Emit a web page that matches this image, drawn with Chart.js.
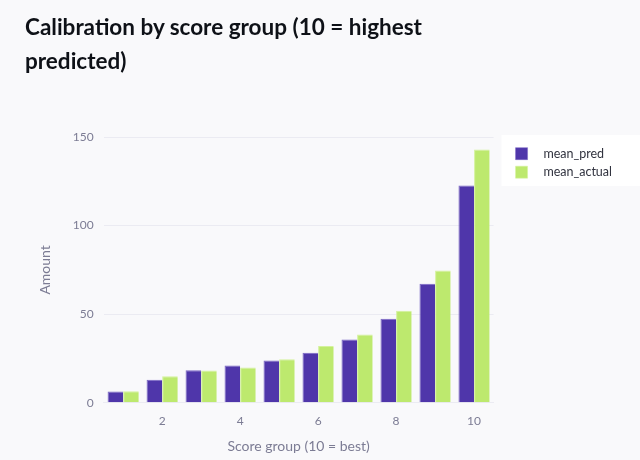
<!DOCTYPE html>
<html>
<head>
<meta charset="utf-8">
<script src="https://cdn.jsdelivr.net/npm/chart.js@4"></script>
<style>
  html, body { margin: 0; padding: 0; background: #f9f9fb; }
  #wrap { position: relative; width: 640px; height: 460px; }
  #title {
    position: absolute; left: 25px; top: 10px; margin: 0;
    font-family: Lato, sans-serif; font-weight: bold; font-size: 22.5px;
    line-height: 34px; color: #0e1117;
  }
</style>
</head>
<body>
<div id="wrap">
  <h1 id="title">Calibration by score group (10 = highest<br>predicted)</h1>
  <canvas id="chart" width="640" height="460"></canvas>
</div>
<script>
// values
const groups = ["1", "2", "3", "4", "5", "6", "7", "8", "9", "10"]
const meanPred = [6.4, 13.0, 18.4, 21.0, 23.9, 28.2, 35.7, 47.4, 67.2, 122.7]
const meanActual = [6.5, 15.0, 18.2, 19.9, 24.6, 32.0, 38.6, 51.9, 74.7, 143.0]
const yTicks = [0, 50, 100, 150]

const tickColor = "#7c7c94"
const gridColor = "#ebebf2"

// white box behind the legend, and nudge the legend items into it
const legendBg = {
  id: "legendBg",
  afterLayout(chart) {
    chart.legend.left += 16
    chart.legend.right += 16
  },
  beforeDraw(chart) {
    const ctx = chart.ctx
    ctx.save()
    ctx.fillStyle = "#ffffff"
    ctx.fillRect(chart.chartArea.right + 8, chart.chartArea.top - 2, chart.width, 51)
    ctx.restore()
  }
}

new Chart(document.getElementById("chart"), {
  type: "bar",
  data: {
    labels: groups,
    datasets: [
      {
        label: "mean_pred",
        data: meanPred,
        backgroundColor: "#4f36aa",
        borderColor: "#7a66c4",
        borderWidth: { top: 1, left: 1, right: 0, bottom: 0 },
        categoryPercentage: 0.8,
        barPercentage: 1.0
      },
      {
        label: "mean_actual",
        data: meanActual,
        backgroundColor: "#bde96e",
        borderColor: "#d4f29c",
        borderWidth: { top: 1, left: 1, right: 0, bottom: 0 },
        categoryPercentage: 0.8,
        barPercentage: 1.0
      }
    ]
  },
  options: {
    responsive: false,
    animation: false,
    layout: { padding: { left: 33, right: 34, top: 137, bottom: 3 } },
    plugins: {
      legend: {
        position: "right",
        align: "start",
        fullSize: false,
        labels: {
          color: "#31333f",
          font: { family: "Lato", size: 12.5 },
          boxWidth: 12,
          boxHeight: 12,
          padding: 6,
          generateLabels: (chart) =>
            Chart.defaults.plugins.legend.labels.generateLabels(chart).map(item => {
              item.text = "   " + item.text
              return item
            })
        },
        title: { display: true, text: "", font: { size: 2 }, padding: 1 }
      },
      tooltip: { enabled: false }
    },
    scales: {
      x: {
        grid: { display: false },
        border: { display: true, color: gridColor },
        ticks: {
          color: tickColor,
          font: { family: "Lato", size: 12 },
          padding: 3,
          callback: function (v, i) { return (i + 1) % 2 === 0 ? groups[i] : "" }
        },
        title: {
          display: true,
          text: "Score group (10 = best)",
          color: tickColor,
          font: { family: "Lato", size: 14 },
          padding: { top: 7, bottom: 2 }
        }
      },
      y: {
        min: 0,
        max: 150,
        grid: { color: gridColor, drawTicks: false },
        border: { display: false },
        afterBuildTicks: (axis) => { axis.ticks = yTicks.map(v => ({ value: v })) },
        ticks: {
          color: tickColor,
          font: { family: "Lato", size: 12 },
          padding: 10
        },
        title: {
          display: true,
          text: "Amount",
          color: tickColor,
          font: { family: "Lato", size: 14 },
          padding: { top: 4, bottom: 9 }
        }
      }
    }
  },
  plugins: [legendBg]
})
</script>
</body>
</html>
